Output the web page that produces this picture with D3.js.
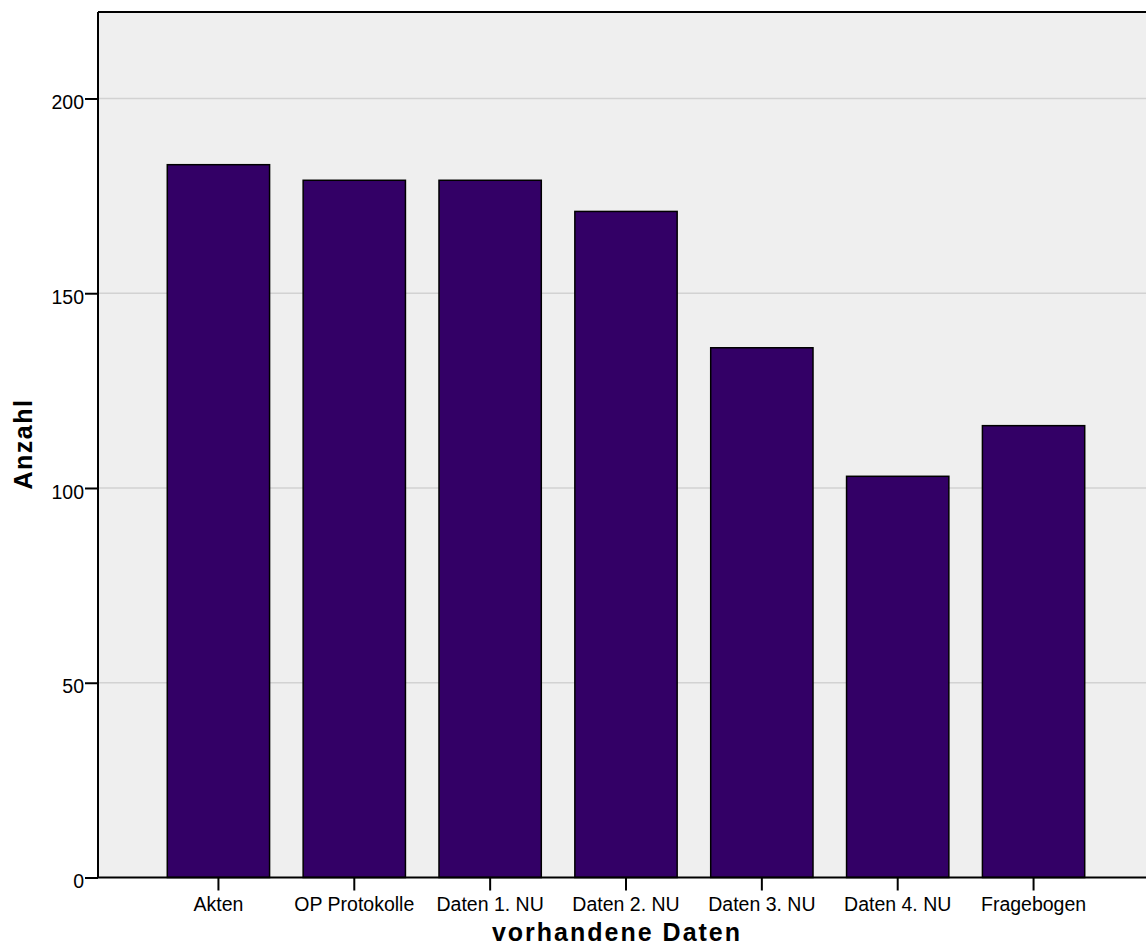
<!DOCTYPE html>
<html>
<head>
<meta charset="utf-8">
<script src="https://cdn.jsdelivr.net/npm/d3@7"></script>
<style>
  html, body { margin: 0; padding: 0; background: #ffffff; }
  svg { display: block; }
</style>
</head>
<body>
<svg id="chart" width="1146" height="948"></svg>
<script>
const categories = ["Akten", "OP Protokolle", "Daten 1. NU", "Daten 2. NU", "Daten 3. NU", "Daten 4. NU", "Fragebogen"];
const counts = [183, 179, 179, 171, 136, 103, 116];
const yTicks = [0, 50, 100, 150, 200];
const xTitle = "vorhandene Daten";
const yTitle = "Anzahl";

(function () {
const svg = d3.select("#chart");
const mLeft = 98, mTop = 12, mBottom = 877.5, rightEdge = 1154;
const font = "Liberation Sans, Arial, sans-serif";

const x = d3.scaleBand().domain(categories).range([mLeft, rightEdge])
  .paddingInner(0.247).paddingOuter(0.51);
const y = d3.scaleLinear().domain([0, 222.2]).range([mBottom, mTop]);

// plot background
svg.append("rect").attr("x", mLeft).attr("y", mTop)
  .attr("width", 1146 - mLeft).attr("height", mBottom - mTop)
  .attr("fill", "#efefef");

// gridlines
svg.append("g").selectAll("line").data(yTicks.filter(d => d > 0)).join("line")
  .attr("x1", mLeft).attr("x2", 1146)
  .attr("y1", d => y(d)).attr("y2", d => y(d))
  .attr("stroke", "#d2d2d2").attr("stroke-width", 1.5);

// bars
svg.append("g").selectAll("rect").data(categories).join("rect")
  .attr("x", d => x(d)).attr("width", x.bandwidth())
  .attr("y", (d, i) => y(counts[i]))
  .attr("height", (d, i) => y(0) - y(counts[i]))
  .attr("fill", "#330066").attr("stroke", "#000").attr("stroke-width", 1.5);

// top border
svg.append("line").attr("x1", mLeft).attr("x2", 1146).attr("y1", mTop).attr("y2", mTop)
  .attr("stroke", "#000").attr("stroke-width", 2);

// y axis
const yAxis = svg.append("g").attr("transform", `translate(${mLeft},0)`)
  .call(d3.axisLeft(y).tickValues(yTicks).tickSize(13).tickPadding(1).tickFormat(d3.format("d")));
yAxis.select(".domain").attr("d", `M0,${mTop}V${mBottom}`).attr("stroke", "#000").attr("stroke-width", 2);
yAxis.selectAll(".tick line").attr("stroke", "#000").attr("stroke-width", 2);
yAxis.selectAll(".tick text").attr("font-family", font)
  .attr("font-size", 19.5).attr("dy", "0.52em").attr("fill", "#000");

// x axis
const xAxis = svg.append("g").attr("transform", `translate(0,${mBottom})`)
  .call(d3.axisBottom(x).tickSize(13).tickPadding(6.5));
xAxis.select(".domain").attr("d", `M${mLeft},0H1146`).attr("stroke", "#000").attr("stroke-width", 2);
xAxis.selectAll(".tick line").attr("stroke", "#000").attr("stroke-width", 2);
xAxis.selectAll(".tick text").attr("font-family", font)
  .attr("font-size", 19.5).attr("fill", "#000");

// axis titles
svg.append("text").attr("x", 617).attr("y", 941).attr("text-anchor", "middle")
  .attr("font-family", font).attr("font-weight", "bold")
  .attr("font-size", 25).attr("letter-spacing", 2).attr("fill", "#000").text(xTitle);

svg.append("text").attr("transform", "translate(32,444) rotate(-90)").attr("text-anchor", "middle")
  .attr("font-family", font).attr("font-weight", "bold")
  .attr("font-size", 25).attr("letter-spacing", 1.5).attr("fill", "#000").text(yTitle);
})();
</script>
</body>
</html>
